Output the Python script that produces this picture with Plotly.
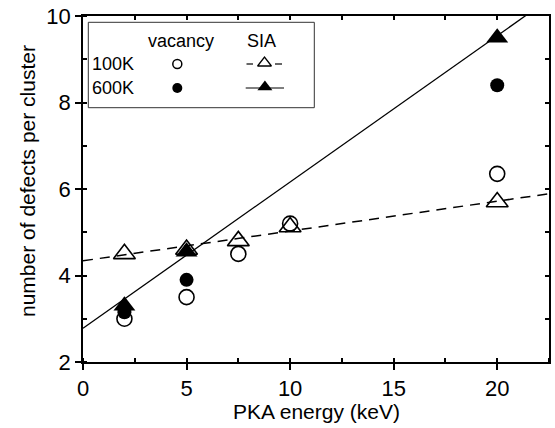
import plotly.graph_objects as go

# ---- data ----
energy_100K_vac = [2, 5, 7.5, 10, 20]
vac_100K = [3.0, 3.5, 4.5, 5.2, 6.35]
energy_600K_vac = [2, 5, 20]
vac_600K = [3.15, 3.9, 8.4]
energy_100K_sia = [2, 5, 7.5, 10, 20]
sia_100K = [4.5, 4.6, 4.8, 5.12, 5.7]
energy_600K_sia = [2, 5, 20]
sia_600K = [3.3, 4.55, 9.5]
# fitted lines (end points)
fit_x = [0, 22.5]
fit_600K_sia = [2.78, 10.39]
fit_100K_sia = [4.34, 5.89]

x_ticks = [0, 5, 10, 15, 20]
y_ticks = [2, 4, 6, 8, 10]

W, H = 555, 428
ML, MR, MT, MB = 83, 6, 16, 66
PW, PH = W - ML - MR, H - MT - MB

FONT = "Liberation Sans, Arial, Helvetica, sans-serif"
LW = 1.5

def px(x):
    return (x - ML) / PW

def py(y):
    return (H - MB - y) / PH

fig = go.Figure()

fig.add_trace(go.Scatter(x=fit_x, y=fit_100K_sia, mode="lines",
                         line=dict(color="black", width=1.5, dash="10px,7px"),
                         showlegend=False, hoverinfo="skip"))
fig.add_trace(go.Scatter(x=fit_x, y=fit_600K_sia, mode="lines",
                         line=dict(color="black", width=1.3),
                         showlegend=False, hoverinfo="skip"))

fig.add_trace(go.Scatter(x=energy_100K_vac, y=vac_100K, mode="markers",
                         marker=dict(symbol="circle-open", size=15, color="black",
                                     line=dict(width=1.6, color="black")),
                         showlegend=False))
fig.add_trace(go.Scatter(x=energy_100K_sia, y=sia_100K, mode="markers",
                         marker=dict(symbol="triangle-up-open", size=19, color="black",
                                     line=dict(width=1.6, color="black")),
                         showlegend=False))
fig.add_trace(go.Scatter(x=energy_600K_vac, y=vac_600K, mode="markers",
                         marker=dict(symbol="circle", size=14, color="black"),
                         showlegend=False))
fig.add_trace(go.Scatter(x=energy_600K_sia, y=sia_600K, mode="markers",
                         marker=dict(symbol="triangle-up", size=19, color="black"),
                         showlegend=False))

# invisible trace for mirrored top / right axes
fig.add_trace(go.Scatter(x=[0], y=[2], xaxis="x2", yaxis="y2", mode="markers",
                         marker=dict(opacity=0), showlegend=False, hoverinfo="skip"))

# ---- legend drawn in pixel space on a hidden overlay axis ----
fig.add_trace(go.Scatter(x=[177.3], y=[64], xaxis="x3", yaxis="y3", mode="markers",
                         marker=dict(symbol="circle-open", size=9, color="black",
                                     line=dict(width=1.5, color="black")),
                         showlegend=False, hoverinfo="skip"))
fig.add_trace(go.Scatter(x=[177.3], y=[88], xaxis="x3", yaxis="y3", mode="markers",
                         marker=dict(symbol="circle", size=10, color="black"),
                         showlegend=False, hoverinfo="skip"))
fig.add_trace(go.Scatter(x=[246.5, 253, None, 275, 282], y=[64, 64, None, 64, 64],
                         xaxis="x3", yaxis="y3", mode="lines",
                         line=dict(color="black", width=1.2),
                         showlegend=False, hoverinfo="skip"))
fig.add_trace(go.Scatter(x=[264.5], y=[63], xaxis="x3", yaxis="y3", mode="markers",
                         marker=dict(symbol="triangle-up-open", size=12, color="black",
                                     line=dict(width=1.3, color="black")),
                         showlegend=False, hoverinfo="skip"))
fig.add_trace(go.Scatter(x=[245.7, 284], y=[88, 88], xaxis="x3", yaxis="y3",
                         mode="lines", line=dict(color="black", width=1.2),
                         showlegend=False, hoverinfo="skip"))
fig.add_trace(go.Scatter(x=[264.9], y=[87], xaxis="x3", yaxis="y3", mode="markers",
                         marker=dict(symbol="triangle-up", size=13, color="black"),
                         showlegend=False, hoverinfo="skip"))

fig.add_shape(type="rect", xref="paper", yref="paper",
              x0=px(88.3), x1=px(314.3), y0=py(22.3), y1=py(107.7),
              line=dict(color="#333", width=1), fillcolor="rgba(0,0,0,0)")

legend_font = dict(family=FONT, size=18, color="black")
fig.add_annotation(x=px(181), y=py(40.5), xref="paper", yref="paper", text="vacancy",
                   showarrow=False, xanchor="center", yanchor="middle", font=legend_font)
fig.add_annotation(x=px(261.5), y=py(40.5), xref="paper", yref="paper", text="SIA",
                   showarrow=False, xanchor="center", yanchor="middle", font=legend_font)
fig.add_annotation(x=px(90), y=py(64), xref="paper", yref="paper", text="100K",
                   showarrow=False, xanchor="left", yanchor="middle", font=legend_font)
fig.add_annotation(x=px(90), y=py(88), xref="paper", yref="paper", text="600K",
                   showarrow=False, xanchor="left", yanchor="middle", font=legend_font)

# axis titles
title_font = dict(family=FONT, size=21, color="black")
fig.add_annotation(x=px(316), y=py(411), xref="paper", yref="paper",
                   text="PKA energy (keV)", showarrow=False,
                   xanchor="center", yanchor="middle", font=title_font)
fig.add_annotation(x=px(27), y=py(181), xref="paper", yref="paper",
                   text="number of defects per cluster", showarrow=False,
                   textangle=-90, xanchor="center", yanchor="middle", font=title_font)

tick_font = dict(family=FONT, size=22, color="black")

fig.update_layout(
    width=W, height=H,
    margin=dict(l=ML, r=MR, t=MT, b=MB, pad=0),
    paper_bgcolor="white", plot_bgcolor="white",
    font=dict(family=FONT, color="black"),
    xaxis=dict(range=[0, 22.5], tickvals=x_ticks, ticktext=[str(v) for v in x_ticks],
               ticks="outside", ticklen=6, tickwidth=LW, tickcolor="black",
               showline=True, linecolor="black", linewidth=LW, showgrid=False,
               zeroline=False, tickfont=tick_font, automargin=False,
               minor=dict(ticks="inside", ticklen=4, tickwidth=LW, dtick=2.5,
                          tick0=0, tickcolor="black", showgrid=False)),
    yaxis=dict(range=[2, 10], tickvals=y_ticks, ticktext=[str(v) for v in y_ticks],
               ticks="outside", ticklen=6, tickwidth=LW, tickcolor="black",
               showline=True, linecolor="black", linewidth=LW, showgrid=False,
               zeroline=False, tickfont=tick_font, automargin=False,
               minor=dict(ticks="inside", ticklen=4, tickwidth=LW, dtick=1,
                          tick0=0, tickcolor="black", showgrid=False)),
    xaxis2=dict(overlaying="x", side="top", range=[0, 22.5], dtick=2.5, tick0=0,
                ticks="inside", ticklen=4, tickwidth=LW, tickcolor="black",
                showline=True, linecolor="black", linewidth=LW, showgrid=False,
                zeroline=False, showticklabels=False, automargin=False),
    yaxis2=dict(overlaying="y", side="right", range=[2, 10], dtick=1, tick0=0,
                ticks="inside", ticklen=4, tickwidth=LW, tickcolor="black",
                showline=True, linecolor="black", linewidth=LW, showgrid=False,
                zeroline=False, showticklabels=False, automargin=False),
    xaxis3=dict(overlaying="x", range=[ML, W - MR], visible=False, automargin=False),
    yaxis3=dict(overlaying="y", range=[H - MB, MT], visible=False, automargin=False),
)

fig.write_html(
    "out.html",
    config={"displayModeBar": False},
    post_script="document.body.style.margin='0px';document.body.style.padding='0px';"
                "document.body.style.overflow='hidden';",
)
